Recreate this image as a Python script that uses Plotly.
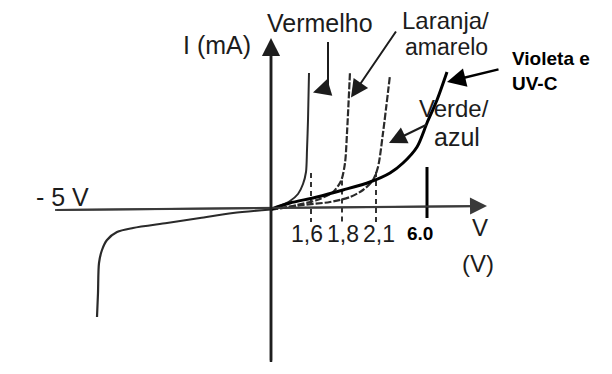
import plotly.graph_objects as go

# ---- data (chart units: x along V axis, y along I axis, origin at axis crossing) ----
red_x = [0, 9, 19, 27, 32, 35, 36, 37, 38]
red_y = [0, 3.5, 8.5, 15.5, 25.5, 37.5, 59.5, 89.5, 136.5]

orange_x = [0, 12, 26, 46, 62, 70, 74, 76, 79]
orange_y = [0, 1.5, 4.5, 9.5, 17.5, 28.5, 46.5, 76.5, 137.5]

green_x = [0, 32, 59, 79, 92, 102, 107, 112, 119]
green_y = [0, 4.5, 7.5, 12.5, 19.5, 29.5, 42.5, 76.5, 134.5]

violet_x = [0, 6, 19, 46, 72, 99, 119, 132, 146, 156, 166, 176]
violet_y = [0, 2.5, 6.5, 12.5, 19.5, 27.5, 36.5, 46.5, 62.5, 86.5, 109.5, 137.5]

reverse_x = [0, -38, -71, -104, -138, -154, -164, -169, -172, -173, -174]
reverse_y = [0, -3.5, -8.5, -13.5, -18.5, -22.5, -30.5, -40.5, -53.5, -83.5, -107.5]

tick_pos = [40, 71, 105]
tick_labels = ["1,6", "1,8", "2,1"]
tick_top = [36.5, 29, 37.5]
uv_tick_pos = 156
uv_tick_label = "6.0"

INK = "#1c1c1c"
FONT = "Liberation Sans, Arial, sans-serif"

fig = go.Figure()

def curve(x, y, width, color, dash="solid"):
    fig.add_trace(go.Scatter(x=x, y=y, mode="lines",
                             line=dict(color=color, width=width, shape="spline",
                                       smoothing=0.8, dash=dash),
                             hoverinfo="skip", showlegend=False))

# axes (as lines; the scanned horizontal axis is slightly tilted)
curve([-216, 205], [-0.5, 3.2], 2, "#555555")
curve([0, 0], [-152.5, 160], 2.5, "#1e1e1e")

# dashed markers
for xp, yt in zip(tick_pos, tick_top):
    curve([xp, xp], [yt, -12.5], 2, "#333333", dash="5px,4px")
curve([uv_tick_pos, uv_tick_pos], [42.5, -8.5], 3, "#000000")

curve(reverse_x, reverse_y, 2.2, "#2a2a2a")
curve(red_x, red_y, 2, "#2a2a2a")
curve(orange_x, orange_y, 2.2, "#2a2a2a", dash="7px,2px")
curve(green_x, green_y, 2.2, "#2a2a2a", dash="7px,2px")
curve(violet_x, violet_y, 3, "#000000")

ann = []

def arrow(x0, y0, x1, y1, color=INK, width=2, size=1.4):
    ann.append(dict(x=x1, y=y1, ax=x0, ay=y0, xref="x", yref="y",
                    axref="x", ayref="y", text="", showarrow=True,
                    arrowhead=2, arrowsize=size, arrowwidth=width,
                    arrowcolor=color))

# axis arrowheads
arrow(-216, -0.5, 216, 3.6, "#3a3a3a", 2, 1.7)
arrow(0, -152.5, 0, 171.5, "#1e1e1e", 2.5, 1.45)

# label arrows
curve([57, 57], [167.5, 121.5], 2, INK)
arrow(57, 121.5, 42, 117, INK, 2, 1.75)
arrow(126, 179.5, 80, 112, INK, 2, 1.75)
arrow(157, 85.5, 118, 66.5, INK, 2, 1.75)
arrow(229, 140.5, 176, 127.5, "#000000", 2.5, 1.5)

def text(x, y, s, size=24, color=INK, bold=False, xanchor="center"):
    ann.append(dict(x=x, y=y, xref="x", yref="y", text=f"<b>{s}</b>" if bold else s,
                    showarrow=False, xanchor=xanchor, yanchor="middle",
                    font=dict(family=FONT, size=size, color=color)))

text(-54, 164.5, "I (mA)", 25)
text(49, 186.5, "Vermelho", 25)
text(174, 189.5, "Laranja/", 24)
text(175, 162.5, "amarelo", 23)
text(183, 101.5, "Verde/", 24)
text(186, 72.5, "azul", 25)
text(239, 151.5, "Violeta e", 19, "#000000", True, "left")
text(239, 126.5, "UV-C", 19, "#000000", True, "left")
text(-209, 12.5, "- 5 V", 25)
for xp, lab in zip([36, 72, 108], tick_labels):
    text(xp, -24.5, lab, 23)
text(149, -23.5, uv_tick_label, 19, "#000000", True)
text(209, -17.5, "V", 24)
text(207, -53.5, "(V)", 24)

# the page body adds an 8px offset; ranges are shifted so the window matches
fig.update_layout(
    width=612, height=374,
    margin=dict(l=0, r=0, t=0, b=0),
    paper_bgcolor="white", plot_bgcolor="white",
    xaxis=dict(range=[-263, 349], visible=False, fixedrange=True),
    yaxis=dict(range=[-172.5, 201.5], visible=False, fixedrange=True),
    annotations=ann,
    showlegend=False,
)

fig.write_html("out.html")
